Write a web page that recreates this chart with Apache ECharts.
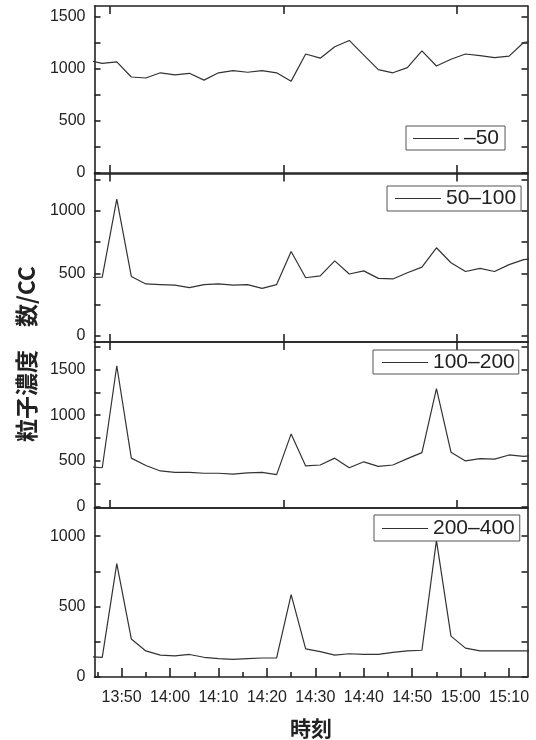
<!DOCTYPE html>
<html>
<head>
<meta charset="utf-8">
<script src="https://cdn.jsdelivr.net/npm/echarts@6/dist/echarts.min.js"></script>
<style>
  html, body { margin: 0; padding: 0; background: #fff; }
  #chart { width: 536px; height: 740px; }
</style>
</head>
<body>
<div id="chart"></div>
<script>
// Sampling times (every 3 minutes)
const times = ['13:43', '13:46', '13:49', '13:52', '13:55', '13:58', '14:01', '14:04',
  '14:07', '14:10', '14:13', '14:16', '14:19', '14:22', '14:25', '14:28', '14:31',
  '14:34', '14:37', '14:40', '14:43', '14:46', '14:49', '14:52', '14:55', '14:58',
  '15:01', '15:04', '15:07', '15:10', '15:13', '15:16'];

// Particle size bins (nm)
const sizeBins = ['–50', '50–100', '100–200', '200–400'];

// Particle number concentration per bin
const concUnder50 = [1080, 1050, 1065, 920, 910, 960, 940, 955, 890, 960, 980, 965, 980, 960,
  880, 1140, 1100, 1210, 1270, 1130, 990, 960, 1010, 1170, 1025, 1090, 1140, 1125, 1105, 1120,
  1250, 1275];
const conc50to100 = [465, 470, 1095, 475, 415, 410, 405, 385, 410, 415, 405, 410, 380, 410,
  675, 465, 480, 600, 495, 520, 460, 455, 505, 550, 705, 585, 515, 540, 515, 570, 610, 620];
const conc100to200 = [435, 425, 1540, 530, 450, 390, 375, 375, 365, 365, 355, 370, 375, 350,
  795, 445, 455, 530, 425, 490, 440, 455, 525, 590, 1290, 595, 500, 525, 520, 565, 550, 565];
const conc200to400 = [145, 140, 805, 270, 185, 155, 150, 160, 140, 130, 125, 130, 135, 135,
  585, 200, 180, 155, 165, 160, 160, 175, 185, 190, 970, 290, 205, 185, 185, 185, 185, 185];

// Time axis tick labels
const timeLabels = ['13:50', '14:00', '14:10', '14:20', '14:30', '14:40', '14:50', '15:00', '15:10'];
const timeMinorTicks = ['13:45', '13:55', '14:05', '14:15', '14:25', '14:35', '14:45', '14:55', '15:05'];

// Y-axis ranges and labelled values per panel
const yRanges = [[0, 1600], [-50, 1300], [-15, 1800], [0, 1200]];
const yLabels = [[0, 500, 1000, 1500], [0, 500, 1000], [0, 500, 1000, 1500], [0, 500, 1000]];

const toMin = s => { const [h, m] = s.split(':').map(Number); return h * 60 + m; };
const fmtTime = v => { const h = Math.floor(v / 60), m = Math.round(v - h * 60); return h + ':' + (m < 10 ? '0' : '') + m; };

const X_MIN = toMin('13:44') + 0.4;
const X_MAX = toMin('15:13') + 0.8;
const panelTicks = [827.6, 863.4, 899.2];   // frame ticks of the upper panels

const seriesValues = [concUnder50, conc50to100, conc100to200, conc200to400];
const panels = [
  { top: 6, height: 167 },
  { top: 173.5, height: 168.5 },
  { top: 342, height: 166 },
  { top: 508, height: 169 }
];
const legendBoxes = [
  { left: 406, top: 126, padding: [2, 6, 1, 7] },
  { left: 387, top: 186, padding: [2, 5, 2, 8] },
  { left: 373, top: 350, padding: [2, 4, 1, 9] },
  { left: 374, top: 515, padding: [3, 5, 2, 8] }
];

const INK = '#222';
const LINE = { color: INK, width: 1.6 };
const TICK_FONT = { fontSize: 16, color: INK, fontFamily: 'Liberation Sans, Arial, sans-serif' };

const grid = [], xAxis = [], yAxis = [], series = [], legend = [];

panels.forEach((p, i) => {
  grid.push({ left: 94.5, width: 433, top: p.top, height: p.height });
  const isLast = i === panels.length - 1;

  // bottom time axis (carries the data)
  xAxis.push({
    type: 'value', gridIndex: i, position: 'bottom', min: X_MIN, max: X_MAX,
    axisLine: { show: true, onZero: false, lineStyle: LINE },
    axisTick: isLast
      ? { show: true, inside: true, length: 9, lineStyle: LINE, customValues: timeLabels.map(toMin) }
      : { show: true, inside: true, length: 8, lineStyle: LINE, customValues: panelTicks },
    axisLabel: isLast
      ? Object.assign({ show: true, margin: 13, customValues: timeLabels.map(toMin), formatter: fmtTime }, TICK_FONT)
      : { show: false },
    splitLine: { show: false },
    name: isLast ? '時刻' : '',
    nameLocation: 'middle',
    nameGap: 41,
    nameTextStyle: { fontSize: 21, fontWeight: 'bold', color: INK, fontFamily: 'Noto Sans CJK JP' }
  });
  // top frame edge
  xAxis.push({
    type: 'value', gridIndex: i, position: 'top', min: X_MIN, max: X_MAX,
    axisLine: { show: true, onZero: false, lineStyle: LINE },
    axisTick: isLast ? { show: false } : { show: true, inside: true, length: 8, lineStyle: LINE, customValues: panelTicks },
    axisLabel: { show: false }, splitLine: { show: false }
  });
  if (isLast) {
    // short ticks between the labelled times
    xAxis.push({
      type: 'value', gridIndex: i, position: 'bottom', min: X_MIN, max: X_MAX,
      axisLine: { show: false, onZero: false },
      axisTick: { show: true, inside: true, length: 5, lineStyle: LINE, customValues: timeMinorTicks.map(toMin) },
      axisLabel: { show: false }, splitLine: { show: false }
    });
  }

  const [yMin, yMax] = yRanges[i];
  const ticks = [];
  for (let v = 0; v <= yMax; v += 250) ticks.push(v);
  yAxis.push({
    type: 'value', gridIndex: i, position: 'left', min: yMin, max: yMax,
    axisLine: { show: true, onZero: false, lineStyle: LINE },
    axisTick: { show: true, inside: true, length: 6, lineStyle: LINE, customValues: ticks },
    axisLabel: Object.assign({ show: true, margin: 9, customValues: yLabels[i], formatter: v => String(v) }, TICK_FONT),
    splitLine: { show: false }
  });
  yAxis.push({
    type: 'value', gridIndex: i, position: 'right', min: yMin, max: yMax,
    axisLine: { show: true, onZero: false, lineStyle: LINE },
    axisTick: { show: true, inside: true, length: 6, lineStyle: LINE, customValues: ticks },
    axisLabel: { show: false }, splitLine: { show: false }
  });

  series.push({
    name: sizeBins[i], type: 'line',
    xAxisIndex: xAxis.findIndex(a => a.gridIndex === i),
    yAxisIndex: 2 * i,
    data: times.map((t, k) => [toMin(t), seriesValues[i][k]]),
    symbol: 'none', clip: true, silent: true,
    itemStyle: { color: '#333' },
    lineStyle: { color: '#333', width: 1.2 }
  });

  const b = legendBoxes[i];
  legend.push({
    data: [sizeBins[i]], left: b.left, top: b.top, padding: b.padding,
    icon: 'rect', itemWidth: 46, itemHeight: 1.2,
    borderColor: '#555', borderWidth: 1, backgroundColor: '#fff',
    selectedMode: false,
    textStyle: { fontSize: 21, color: INK, fontFamily: 'Liberation Sans, Arial, sans-serif' }
  });
});

const chart = echarts.init(document.getElementById('chart'), null, { renderer: 'canvas' });
chart.setOption({
  backgroundColor: '#fff',
  animation: false,
  grid, xAxis, yAxis, series, legend,
  graphic: [{
    type: 'text', x: 26, y: 354, rotation: Math.PI / 2,
    style: {
      text: '粒子濃度　数/CC',
      font: 'bold 23px "Noto Sans CJK JP"',
      fill: INK, align: 'center', verticalAlign: 'middle'
    }
  }]
});
</script>
</body>
</html>
